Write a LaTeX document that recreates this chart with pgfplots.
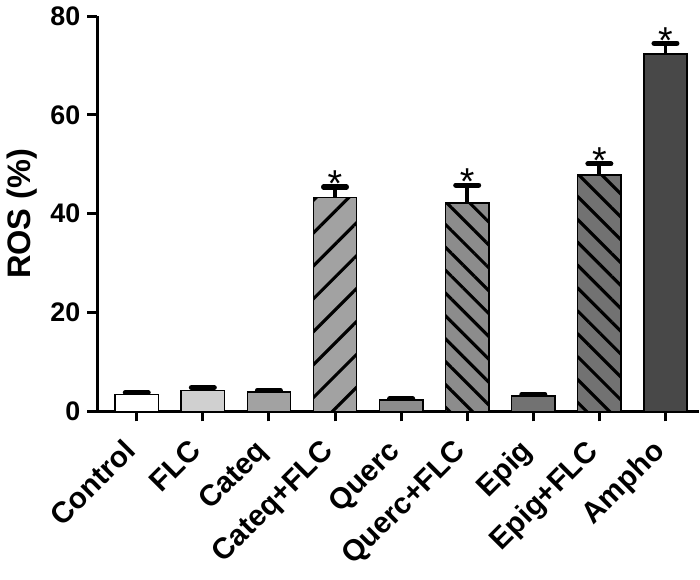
\documentclass[border=0pt]{standalone}
\usepackage{pgfplots}
\pgfplotsset{compat=1.18}
\usepackage{fontspec}
\setmainfont{Liberation Sans}
\usetikzlibrary{patterns.meta}

\definecolor{cflc}{HTML}{D0D0D0}
\definecolor{ccat}{HTML}{A2A2A2}
\definecolor{cque}{HTML}{8C8C8C}
\definecolor{cepi}{HTML}{727272}
\definecolor{camp}{HTML}{484848}

\pgfplotsset{
  rosbar/.style={
    ybar, bar width=22pt, bar shift=0pt,
    draw=black, line width=0.75pt,
    error bars/y dir=plus, error bars/y explicit,
    error bars/error bar style={line width=2pt, black},
    error bars/error mark options={rotate=90, line width=2.6pt, mark size=5.8pt, line cap=round, black},
  },
}

\begin{document}
\begin{tikzpicture}
\begin{axis}[
  scale only axis,
  width=305pt, height=200.5pt,
  xmin=-0.6, xmax=8.5, ymin=0, ymax=80,
  axis x line*=bottom, axis y line*=left,
  axis line style={line width=1.5pt},
  xtick={0,...,8},
  xticklabels={Control,FLC,Cateq,Cateq+FLC,Querc,Querc+FLC,Epig,Epig+FLC,Ampho},
  ytick={0,20,40,60,80},
  tick align=outside,
  major tick length=5pt,
  tick style={line width=1.5pt, black},
  xticklabel style={xshift=-7.5pt, yshift=-3.5pt, rotate=45, anchor=north east,
    font=\fontsize{15}{17}\selectfont\bfseries},
  yticklabel style={font=\fontsize{13.6}{15}\selectfont\bfseries},
  /pgf/number format/assume math mode=true,
  ylabel={ROS (\%)},
  ylabel style={font=\fontsize{16.5}{18}\selectfont\bfseries},
  clip=false,
]

\addplot[rosbar, fill=white] coordinates {(0,3.4) +- (0,0.4)};
\addplot[rosbar, fill=cflc] coordinates {(1,4.2) +- (0,0.6)};
\addplot[rosbar, fill=ccat] coordinates {(2,3.9) +- (0,0.4)};
\addplot[rosbar, fill=ccat,
  postaction={pattern={Lines[angle=45,distance=11.8pt,line width=1.6pt]}, pattern color=black}]
  coordinates {(3,43.3) +- (0,2.1)};
\addplot[rosbar, fill=cque] coordinates {(4,2.3) +- (0,0.3)};
\addplot[rosbar, fill=cque,
  postaction={pattern={Lines[angle=-45,distance=8.2pt,line width=1.6pt]}, pattern color=black}]
  coordinates {(5,42.2) +- (0,3.6)};
\addplot[rosbar, fill=cepi] coordinates {(6,3.1) +- (0,0.4)};
\addplot[rosbar, fill=cepi,
  postaction={pattern={Lines[angle=-45,distance=8.2pt,line width=1.6pt]}, pattern color=black}]
  coordinates {(7,47.8) +- (0,2.3)};
\addplot[rosbar, fill=camp] coordinates {(8,72.3) +- (0,2.2)};

% significance marks, placed above the error bar tops
\addplot[draw=none, mark=none, nodes near coords={*},
  nodes near coords style={anchor=base, yshift=-5pt, font=\fontsize{19}{19}\selectfont}]
  coordinates {(3,45.4) (5,45.8) (7,50.1) (8,74.5)};

\end{axis}
\end{tikzpicture}
\end{document}
